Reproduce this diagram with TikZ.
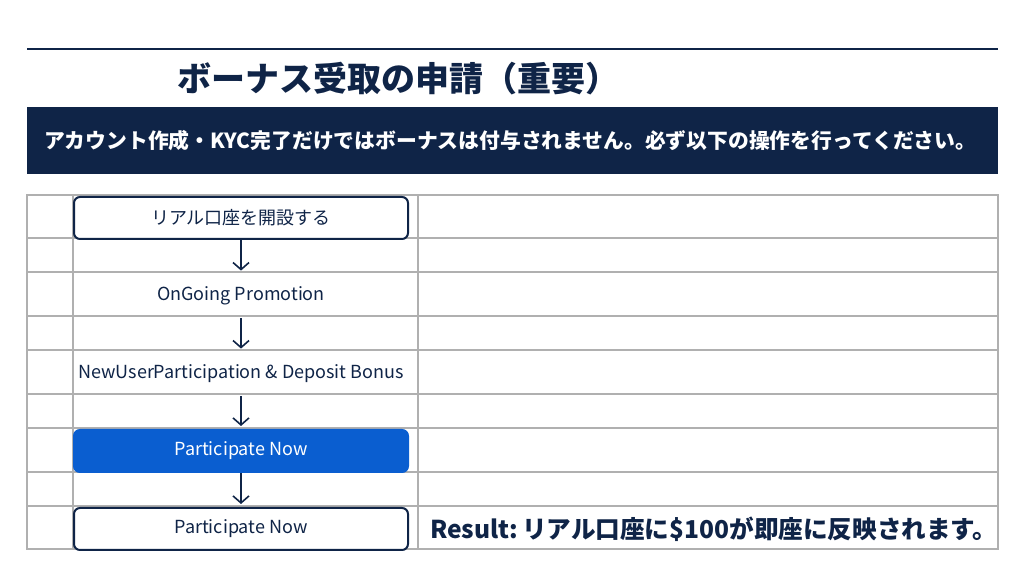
\documentclass[tikz,border=0pt]{standalone}
\usepackage{fontspec}
\setmainfont{Noto Sans CJK JP}
\usetikzlibrary{positioning,arrows.meta}
\definecolor{navy}{RGB}{15,36,71}
\definecolor{btnblue}{RGB}{10,94,208}
\definecolor{gridgray}{RGB}{176,176,176}
\tikzset{
	stepbox/.style={draw=navy, line width=1pt, rounded corners=3pt, fill=white, minimum width=167pt, minimum height=21pt, inner sep=0pt, font=\fontsize{9}{10}\selectfont, text=navy},
	btnbox/.style={stepbox, draw=btnblue, fill=btnblue, text=white},
	steptext/.style={minimum width=167pt, minimum height=22pt, inner sep=0pt, font=\fontsize{9}{10}\selectfont, text=navy},
	flowarrow/.style={navy, line width=0.8pt, -{Straight Barb[length=3.5pt,width=8pt]}, shorten >=1.5pt}
}

\begin{document}
\begin{tikzpicture}[x=0.5pt,y=-0.5pt]
			%%%%% START %%%%%
			\useasboundingbox (0,0) rectangle (1024,576);
			
			\draw[navy, line width=1.2pt] (27,49) -- (998,49);
			\node[anchor=west, text=navy, font=\fontsize{17}{18}\selectfont\bfseries] (title) at (170,79) {ボーナス受取の申請（重要）};
			
			\fill[navy] (27,107) rectangle (998,174);
			\node[anchor=west, text=white, font=\fontsize{10.4}{12}\selectfont\bfseries] (banner) at (37,141) {アカウント作成・KYC完了だけではボーナスは付与されません。必ず以下の操作を行ってください。};
			
			% table grid
			\draw[gridgray, line width=0.6pt] (27,195) rectangle (998,549);
			\foreach \y in {238,272,316,350,394,428,472,506}
				\draw[gridgray, line width=0.6pt] (27,\y) -- (998,\y);
			\draw[gridgray, line width=0.6pt] (73,195) -- (73,549);
			\draw[gridgray, line width=0.6pt] (418,195) -- (418,549);
			
			% steps
			\node[stepbox] (open) at (241,218) {リアル口座を開設する};
			\node[steptext] (promo) at (241,296) {OnGoing Promotion};
			\node[steptext] (newuser) at (241,374) {NewUserParticipation \& Deposit Bonus};
			\node[btnbox] (join) at (241,451) {Participate Now};
			\node[stepbox] (joined) at (241,529) {Participate Now};
			
			\draw[flowarrow] (open) -- (promo);
			\draw[flowarrow] (promo) -- (newuser);
			\draw[flowarrow] (newuser) -- (join);
			\draw[flowarrow] (join) -- (joined);
			
			\node[anchor=west, text=navy, font=\fontsize{12.3}{14}\selectfont\bfseries] (result) at (423,529) {Result:\hspace{-0.15em} リアル口座に\$100が即座に反映されます。};
			%%%%% END %%%%%
\end{tikzpicture}
\end{document}
